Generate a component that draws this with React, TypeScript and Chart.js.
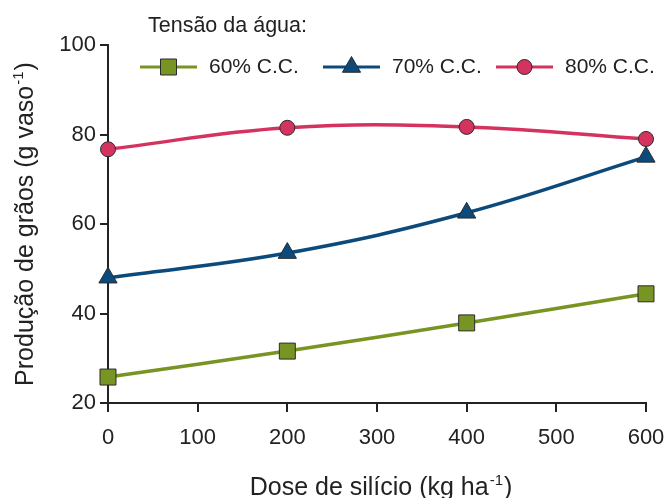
import { useEffect, useRef } from "react";
import { Chart, registerables } from "chart.js";

Chart.register(...registerables);

const doses = [0, 200, 400, 600];
const cc60 = [25.8, 31.6, 37.9, 44.4];
const cc70 = [48.0, 53.5, 62.5, 75.0];
const cc80 = [76.7, 81.5, 81.7, 79.0];
const seriesLabels = ["60% C.C.", "70% C.C.", "80% C.C."];
const seriesColors = ["#789524", "#0c4a7c", "#d5335f"];
const xTickValues = [0, 100, 200, 300, 400, 500, 600];
const yTickValues = [20, 40, 60, 80, 100];
const legendTitle = "Tensão da água:";
const yTitleParts = ["Produção de grãos (g vaso", "-1", ")"];
const xTitleParts = ["Dose de silício (kg ha", "-1", ")"];

const FONT = "'Liberation Sans', Arial, Helvetica, sans-serif";
const INK = "#222222";
const MARKER_EDGE = "#2b2b2b";

function drawSupText(
  ctx: CanvasRenderingContext2D,
  parts: string[],
  cx: number,
  baseY: number,
  size: number
) {
  const mainFont = `${size}px ${FONT}`;
  const supFont = `${Math.round(size * 0.6)}px ${FONT}`;
  ctx.font = mainFont;
  const w0 = ctx.measureText(parts[0]).width;
  const w2 = ctx.measureText(parts[2]).width;
  ctx.font = supFont;
  const w1 = ctx.measureText(parts[1]).width;
  const total = w0 + w1 + w2 + 2;
  let x = cx - total / 2;
  ctx.textAlign = "left";
  ctx.textBaseline = "alphabetic";
  ctx.fillStyle = INK;
  ctx.font = mainFont;
  ctx.fillText(parts[0], x, baseY);
  x += w0 + 1;
  ctx.font = supFont;
  ctx.fillText(parts[1], x, baseY - size * 0.42);
  x += w1 + 1;
  ctx.font = mainFont;
  ctx.fillText(parts[2], x, baseY);
}

function drawMarker(
  ctx: CanvasRenderingContext2D,
  style: string,
  x: number,
  y: number,
  r: number,
  fill: string
) {
  ctx.beginPath();
  if (style === "rect") {
    const s = r * Math.SQRT1_2;
    ctx.rect(x - s, y - s, 2 * s, 2 * s);
  } else if (style === "triangle") {
    let a = 0;
    ctx.moveTo(x + Math.sin(a) * r, y - Math.cos(a) * r);
    a += (2 * Math.PI) / 3;
    ctx.lineTo(x + Math.sin(a) * r, y - Math.cos(a) * r);
    a += (2 * Math.PI) / 3;
    ctx.lineTo(x + Math.sin(a) * r, y - Math.cos(a) * r);
    ctx.closePath();
  } else {
    ctx.arc(x, y, r, 0, Math.PI * 2);
  }
  ctx.fillStyle = fill;
  ctx.fill();
  ctx.lineWidth = 1;
  ctx.strokeStyle = MARKER_EDGE;
  ctx.stroke();
}

const pointStyles = ["rect", "triangle", "circle"];
const pointRadii = [11.3, 10.5, 7.5];

const decorPlugin = {
  id: "decor",
  afterDraw(chart: any) {
    const ctx: CanvasRenderingContext2D = chart.ctx;
    const area = chart.chartArea;
    ctx.save();
    ctx.font = `21.5px ${FONT}`;
    ctx.fillStyle = INK;
    ctx.textAlign = "left";
    ctx.textBaseline = "alphabetic";
    ctx.fillText(legendTitle, 148, 32);
    const starts = [140, 323, 496];
    const ly = 67;
    chart.data.datasets.forEach((ds: any, i: number) => {
      const x0 = starts[i];
      ctx.beginPath();
      ctx.moveTo(x0, ly);
      ctx.lineTo(x0 + 57, ly);
      ctx.strokeStyle = ds.borderColor;
      ctx.lineWidth = 3;
      ctx.stroke();
      drawMarker(ctx, pointStyles[i], x0 + 28.5, ly, pointRadii[i], ds.backgroundColor);
      ctx.font = `21px ${FONT}`;
      ctx.fillStyle = INK;
      ctx.textAlign = "left";
      ctx.textBaseline = "middle";
      ctx.fillText(ds.label, x0 + 69, ly);
    });
    drawSupText(ctx, xTitleParts, (area.left + area.right) / 2 + 4, 495, 25);
    ctx.translate(33, (area.top + area.bottom) / 2);
    ctx.rotate(-Math.PI / 2);
    drawSupText(ctx, yTitleParts, 0, 0, 25);
    ctx.restore();
  },
};

export default function App() {
  const ref = useRef<HTMLCanvasElement | null>(null);

  useEffect(() => {
    document.body.style.margin = "0";
    const canvas = ref.current;
    if (!canvas) return;
    const mk = (vals: number[], i: number) => ({
      label: seriesLabels[i],
      data: doses.map((d, k) => ({ x: d, y: vals[k] })),
      borderColor: seriesColors[i],
      backgroundColor: seriesColors[i],
      borderWidth: 3.5,
      tension: 0.4,
      pointStyle: pointStyles[i],
      pointRadius: pointRadii[i],
      pointBorderColor: MARKER_EDGE,
      pointBorderWidth: 1,
      pointBackgroundColor: seriesColors[i],
      clip: false,
    });
    const chart = new Chart(canvas, {
      type: "line",
      data: {
        datasets: [mk(cc60, 0), mk(cc70, 1), mk(cc80, 2)],
      },
      options: {
        responsive: false,
        animation: false,
        layout: { padding: { top: 45, right: 25, bottom: 0, left: 0 } },
        plugins: {
          legend: { display: false },
          tooltip: { enabled: false },
        },
        scales: {
          x: {
            type: "linear",
            min: 0,
            max: 600,
            afterBuildTicks: (s: any) => {
              s.ticks = xTickValues.map((v) => ({ value: v }));
            },
            afterFit: (s: any) => {
              s.height = 95;
              s.paddingLeft = 0;
              s.paddingRight = 0;
            },
            grid: {
              drawOnChartArea: false,
              drawTicks: true,
              tickLength: 9,
              color: INK,
              lineWidth: 2,
            },
            border: { display: true, color: INK, width: 2 },
            ticks: {
              color: INK,
              font: { family: FONT, size: 22 },
              padding: 13,
              maxRotation: 0,
            },
          },
          y: {
            type: "linear",
            min: 20,
            max: 100,
            afterBuildTicks: (s: any) => {
              s.ticks = yTickValues.map((v) => ({ value: v }));
            },
            afterFit: (s: any) => {
              s.width = 108;
              s.paddingTop = 0;
              s.paddingBottom = 0;
            },
            grid: {
              drawOnChartArea: false,
              drawTicks: true,
              tickLength: 8,
              color: INK,
              lineWidth: 2,
            },
            border: { display: true, color: INK, width: 2 },
            ticks: {
              color: INK,
              font: { family: FONT, size: 22 },
              padding: 4,
            },
          },
        },
      },
      plugins: [decorPlugin],
    });
    return () => chart.destroy();
  }, []);

  return (
    <div style={{ width: 671, height: 498 }}>
      <canvas ref={ref} width={671} height={498} style={{ display: "block" }} />
    </div>
  );
}
